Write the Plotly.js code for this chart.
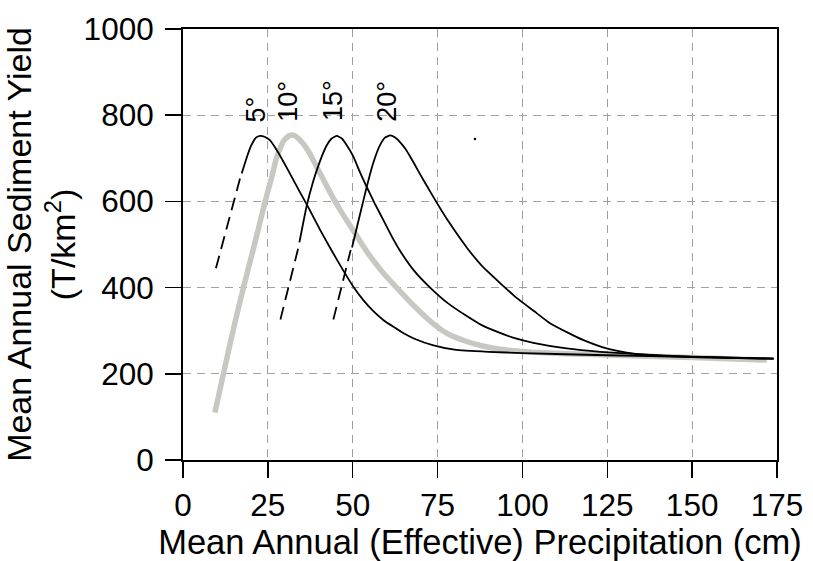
<!DOCTYPE html>
<html>
<head>
<meta charset="utf-8">
<script src="https://cdn.plot.ly/plotly-3.0.1.min.js"></script>
<style>html,body{margin:0;padding:0;background:#fff;}#chart{width:813px;height:561px;}</style>
</head>
<body>
<div id="chart"></div>
<script>
// ---- data ----
const curveLabels = ["5°", "10°", "15°", "20°"];
const xTicks = [0, 25, 50, 75, 100, 125, 150, 175];
const yTicks = [0, 200, 400, 600, 800, 1000];

// 5° curve
const dash5X = [9.7, 16.8];
const dash5Y = [445, 653];
const solid5X = [17.3, 18.5, 20, 21.5, 22.7, 24, 25.6, 28, 31, 34, 37, 40.4, 43.5, 47.2, 50.2, 53, 56, 59, 62, 65, 68, 73.8, 80, 90, 100, 125, 150, 174];
const solid5Y = [665, 695, 728, 748, 752, 750, 742, 714, 672, 628, 585, 534, 490, 440, 402, 372, 346, 325, 309, 294, 282, 266, 256, 251, 248, 243, 239, 235];

// 10° curve (grey)
const grey10X = [9.4, 11.9, 14.8, 17.8, 20.8, 24.2, 26, 27.6, 29.6, 31, 32, 33, 34.5, 37, 39.4, 42, 44.3, 47, 50.2, 54.1, 59, 63.9, 68, 73.8, 78, 83.6, 88, 93.4, 103, 123, 150, 172];
const grey10Y = [110, 200, 302, 400, 492, 600, 652, 703, 740, 751, 754, 752, 742, 716, 680, 641, 607, 571, 532, 484, 434, 392, 358, 316, 293, 275, 265, 257, 250, 244, 238, 232];

// 15° curve
const dash15X = [28.7, 33.9];
const dash15Y = [326, 490];
const solid15X = [34.3, 36.4, 38.3, 40.2, 42.2, 43.8, 45.3, 46.8, 48.2, 50.2, 52, 54.1, 56.5, 59, 61.5, 63.9, 68, 72.8, 78, 83.6, 88, 93.4, 98, 103.2, 113, 123, 135, 150, 174];
const solid15Y = [505, 588, 645, 690, 728, 746, 752, 746, 731, 704, 670, 634, 595, 557, 519, 486, 440, 400, 364, 334, 313, 295, 282, 272, 259, 251, 245, 240, 235];

// 20° curve
const dash20X = [44.3, 49.4];
const dash20Y = [326, 487];
const solid20X = [49.8, 52, 54.1, 56, 58, 59.5, 61, 62.5, 64, 65.5, 67, 68.5, 70, 72, 74, 78, 83.7, 88, 93.5, 98, 103.5, 108, 113.5, 118, 123.5, 128, 133.4, 140, 150, 160, 174];
const solid20Y = [493, 565, 633, 688, 730, 748, 753, 748, 737, 722, 703, 682, 661, 634, 607, 556, 492, 451, 410, 378, 345, 318, 295, 278, 262, 253, 246, 242, 239, 237, 235];

// stray speck in the original figure
const speckX = [86];
const speckY = [745];

// label anchor points (data coordinates)
const labelX = [21.6, 30.9, 44.2, 60.1];
const labelY = [814, 833, 833, 831];

// ---- drawing ----
const FONT = "'Liberation Sans', Arial, Helvetica, sans-serif";
const black = "#000000";
const grey = "#c8c8c3";
const dashStyle = "13px,7px";

function line(x, y, color, width, dash) {
  return {x: x, y: y, type: "scatter", mode: "lines", hoverinfo: "skip",
          line: {color: color, width: width, dash: dash || "solid", shape: "spline", smoothing: 0.4}};
}

const traces = [
  line(grey10X, grey10Y, grey, 5.5),
  line(dash5X, dash5Y, black, 1.8, dashStyle),
  line(solid5X, solid5Y, black, 1.8),
  line(dash15X, dash15Y, black, 1.8, dashStyle),
  line(solid15X, solid15Y, black, 1.8),
  line(dash20X, dash20Y, black, 1.8, dashStyle),
  line(solid20X, solid20Y, black, 1.8),
  {x: speckX, y: speckY, type: "scatter", mode: "markers", hoverinfo: "skip",
   marker: {color: black, size: 2.5}}
];

const annotations = curveLabels.map((t, i) => ({
  x: labelX[i], y: labelY[i], xref: "x", yref: "y", text: t, showarrow: false,
  textangle: -90, xanchor: "center", yanchor: "middle",
  font: {family: FONT, size: 27, color: black}
}));

const axisCommon = {
  showline: true, linecolor: black, linewidth: 2, mirror: true,
  ticks: "outside", ticklen: 16, tickwidth: 1.5, tickcolor: black,
  showgrid: true, gridcolor: "#a0a0a0", gridwidth: 1.2, griddash: "8px,6px",
  zeroline: false, tickfont: {family: FONT, size: 31.5, color: black},
  automargin: false
};

const layout = {
  width: 813, height: 561,
  margin: {l: 183, r: 36, t: 29, b: 101},
  paper_bgcolor: "#ffffff", plot_bgcolor: "#ffffff",
  showlegend: false,
  font: {family: FONT, color: black},
  xaxis: Object.assign({}, axisCommon, {
    range: [0, 175], tickmode: "array", tickvals: xTicks, ticktext: xTicks.map(String),
    ticklabelstandoff: 0,
    title: {text: "Mean Annual (Effective) Precipitation (cm)", font: {family: FONT, size: 34.5, color: black}, standoff: 5}
  }),
  yaxis: Object.assign({}, axisCommon, {
    range: [0, 1000], tickmode: "array", tickvals: yTicks, ticktext: yTicks.map(String),
    ticklabelstandoff: 5,
    title: {text: "Mean Annual Sediment Yield<br>(T/km<sup>2</sup>)", font: {family: FONT, size: 34, color: black}, standoff: 6}
  }),
  annotations: annotations
};

Plotly.newPlot("chart", traces, layout, {displayModeBar: false, staticPlot: true});
</script>
</body>
</html>
